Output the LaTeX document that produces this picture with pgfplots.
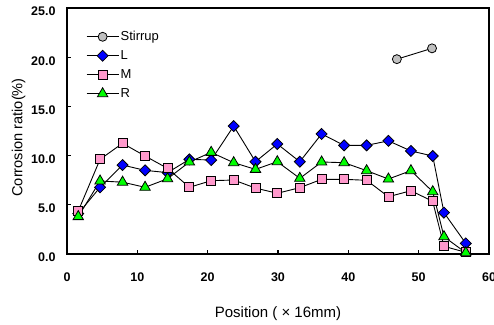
\documentclass[border=0pt]{standalone}
\usepackage{pgfplots}
\pgfplotsset{compat=1.18}
\usepackage{fontspec}
\setmainfont{Liberation Sans}
\definecolor{cpink}{RGB}{255,153,204}
\definecolor{cgreen}{RGB}{0,255,0}
\definecolor{cblue}{RGB}{0,0,255}
\definecolor{cgray}{RGB}{192,192,192}
\pgfplotsset{longlegend/.style={legend image code/.code={\draw[mark repeat=2,mark phase=2,##1] plot coordinates {(0pt,0pt)(16pt,0pt)(32pt,0pt)};}}}
\begin{document}
\begin{tikzpicture}
\useasboundingbox (-67pt,-70pt) rectangle (427pt,254pt);
\begin{axis}[
  at={(0pt,0pt)}, anchor=south west,
  scale only axis, width=422pt, height=246pt,
  xmin=0, xmax=60, ymin=0, ymax=25,
  xtick={0,10,...,60}, ytick={0,5,...,25},
  xtick pos=bottom, ytick pos=left, tick align=inside,
  major tick length=4.3pt,
  tick style={black, line width=1.2pt},
  axis line style={line width=1.6pt},
  /pgf/number format/assume math mode=true,
  ticklabel style={font=\fontsize{12.5}{14}\selectfont\bfseries},
  xticklabel style={yshift=-15pt},
  yticklabel style={xshift=-8pt, yshift=-3.5pt, /pgf/number format/fixed, /pgf/number format/fixed zerofill, /pgf/number format/precision=1},
  xlabel={Position ( × 16mm)},
  ylabel={Corrosion ratio(\%)},
  xlabel style={at={(axis description cs:0.5,0)}, anchor=base, yshift=-63pt, font=\fontsize{15}{17}\selectfont},
  ylabel style={at={(axis description cs:0,0.474)}, anchor=base, yshift=44.5pt, font=\fontsize{14.6}{17}\selectfont},
  clip=false,
  legend style={draw=none, fill=none, at={(axis description cs:0.045,0.906)}, anchor=north west, inner sep=0pt,
    font=\fontsize{13}{15}\selectfont, row sep=8pt, nodes={inner xsep=1.5pt, inner ysep=0pt}},
  legend cell align=left,
  every axis plot/.append style={black, line width=0.9pt},
]
\addplot[mark=*, mark size=4.5pt, mark options={fill=cgray, draw=black, line width=0.8pt}, longlegend] coordinates {(46.9,19.8) (51.9,20.9)};
\addlegendentry{Stirrup}
\addplot[mark=square*, mark size=3.9pt, mark options={rotate=45, fill=cblue, draw=black, line width=0.8pt}, longlegend] coordinates {
(1.6,4.1) (4.7,6.78) (7.9,9.04) (11.1,8.5) (14.3,8.27) (17.4,9.62) (20.5,9.55) (23.7,13.0) (26.8,9.38) (29.9,11.18)
(33.1,9.38) (36.2,12.2) (39.4,11.04) (42.6,11.04) (45.7,11.5) (48.9,10.47) (52.0,9.96) (53.6,4.2) (56.7,1.08)};
\addlegendentry{L}
\addplot[mark=square*, mark size=4.5pt, mark options={fill=cpink, draw=black, line width=0.8pt}, longlegend] coordinates {
(1.6,4.37) (4.7,9.62) (7.9,11.25) (11.1,9.96) (14.3,8.7) (17.4,6.78) (20.5,7.45) (23.7,7.52) (26.8,6.7) (29.9,6.17)
(33.1,6.74) (36.2,7.59) (39.4,7.59) (42.6,7.49) (45.7,5.82) (48.9,6.43) (52.0,5.35) (53.6,0.78) (56.7,0.17)};
\addlegendentry{M}
\addplot[mark=triangle*, mark size=6pt, mark options={fill=cgreen, draw=black, line width=0.8pt}, longlegend] coordinates {
(1.6,3.8) (4.7,7.42) (7.9,7.3) (11.1,6.78) (14.3,7.65) (17.4,9.35) (20.5,10.33) (23.7,9.28) (26.8,8.6) (29.9,9.38)
(33.1,7.69) (36.2,9.35) (39.4,9.28) (42.6,8.47) (45.7,7.62) (48.9,8.47) (52.0,6.33) (53.6,1.76) (56.7,0.13)};
\addlegendentry{R}
\end{axis}
\end{tikzpicture}
\end{document}
